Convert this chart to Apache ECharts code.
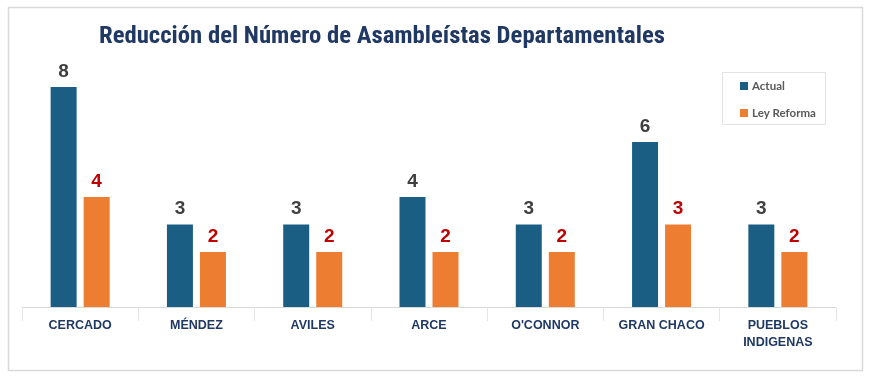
<!DOCTYPE html>
<html><head><meta charset="utf-8">
<script src="https://cdn.jsdelivr.net/npm/echarts@6/dist/echarts.min.js"></script>
<style>html,body{margin:0;padding:0;background:#fff}#c{width:870px;height:378px}</style>
</head><body><div id="c"></div>
<script>
const categories = ['CERCADO','MÉNDEZ','AVILES','ARCE',"O'CONNOR",'GRAN CHACO','PUEBLOS\nINDIGENAS'];
const actual = [8,3,3,4,3,6,3];
const leyReforma = [4,2,2,2,2,3,2];
const seriesNames = ['Actual','Ley Reforma'];

const chart = echarts.init(document.getElementById('c'));
chart.setOption({
  animation:false,
  backgroundColor:'#fff',
  graphic:[{type:'rect',shape:{x:8.5,y:7.5,width:854,height:363},style:{fill:'none',stroke:'#d9d9d9',lineWidth:1.5},z:-1},
           {type:'rect',shape:{x:722.5,y:72.5,width:103,height:52},style:{fill:'#fff',stroke:'#e3e3e3',lineWidth:1},z:0}],
  title:{text:'Reducción del Número de Asambleístas Departamentales',left:94,top:19,
    textStyle:{fontFamily:'Liberation Sans Narrow, Roboto Condensed, sans-serif',fontSize:24.7,fontWeight:'bold',color:'#1f3864'}},
  legend:{orient:'vertical',left:735,top:75,itemWidth:8,itemHeight:8,itemGap:15,icon:'rect',
    textStyle:{fontFamily:'Lato, sans-serif',fontSize:11.5,fontWeight:'bold',color:'#595959',padding:[0,0,0,-1]},data:seriesNames},
  grid:{left:22,right:34,top:87,bottom:71,containLabel:false},
  xAxis:{type:'category',data:categories,
    axisLine:{lineStyle:{color:'#d9d9d9'}},
    axisTick:{show:true,alignWithLabel:false,length:14,lineStyle:{color:'#e6e6e6'}},
    axisLabel:{interval:0,margin:10,lineHeight:17,fontFamily:'Liberation Sans Narrow, sans-serif',fontSize:12.5,fontWeight:'bold',color:'#1f3864'}},
  yAxis:{type:'value',min:0,max:8,show:false,splitLine:{show:false}},
  series:[
    {name:seriesNames[0],type:'bar',data:actual,barWidth:26,barGap:'27%',itemStyle:{color:'#1b5e83'},
     label:{show:true,position:'top',distance:6,fontFamily:'Liberation Sans, Arial, sans-serif',fontSize:19,fontWeight:'bold',color:'#404040'}},
    {name:seriesNames[1],type:'bar',data:leyReforma,barWidth:26,itemStyle:{color:'#ed7d31'},
     label:{show:true,position:'top',distance:6,fontFamily:'Liberation Sans, Arial, sans-serif',fontSize:19,fontWeight:'bold',color:'#c00000'}}
  ]
});
</script></body></html>
